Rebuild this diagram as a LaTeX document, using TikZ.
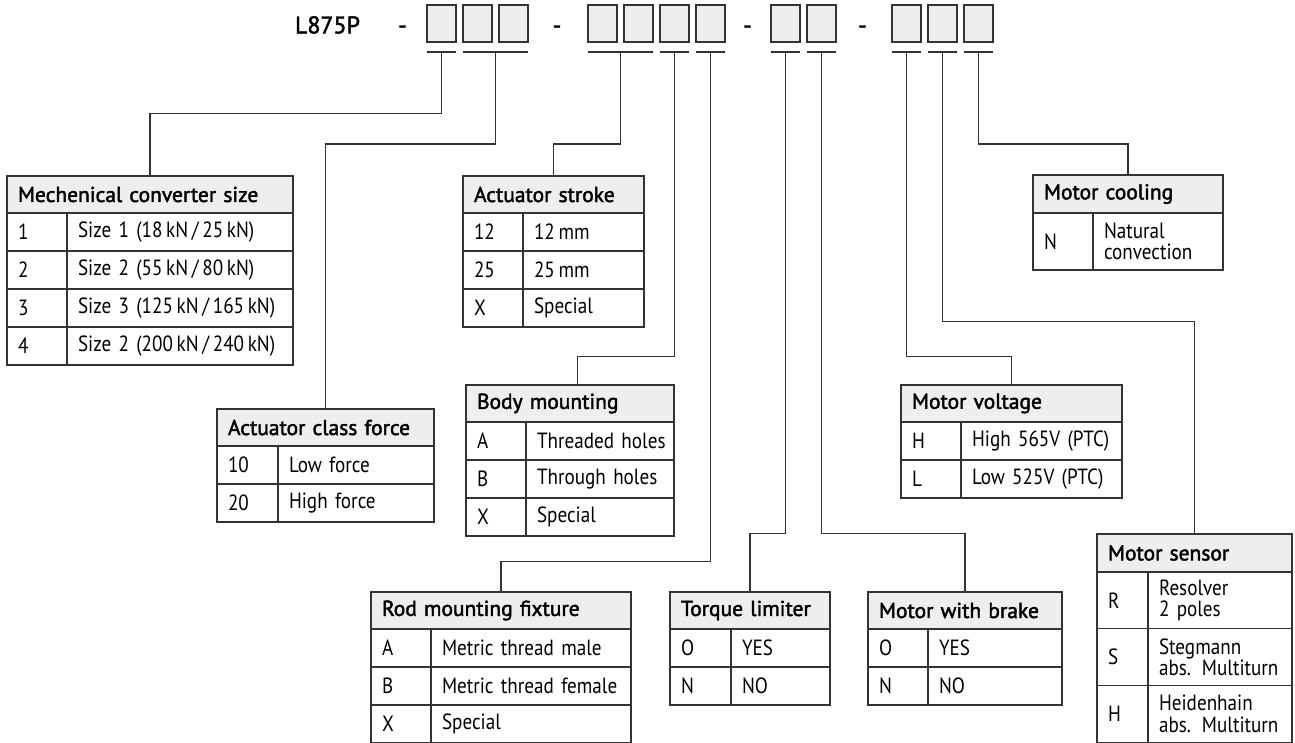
\documentclass[tikz,border=0pt]{standalone}
\usepackage{fontspec}
\setmainfont{PT Sans}
\newfontfamily\bodyfont{PT Sans}[FakeStretch=0.87]
\newfontfamily\medfont{PT Sans}[FakeBold=2]
\usetikzlibrary{positioning,calc}
\definecolor{linegray}{HTML}{333333}
\definecolor{fillgray}{HTML}{EEEEEE}
\begin{document}
\begin{tikzpicture}[
  x=1pt, y=-1pt,
  slot/.style={draw=linegray, fill=fillgray, line width=1.1pt, minimum width=29pt, minimum height=37pt, inner sep=0pt, outer sep=0pt},
  code/.style={anchor=base, inner sep=0pt, font=\medfont\fontsize{24}{26}\selectfont},
  head/.style={draw=linegray, fill=fillgray, line width=1.1pt, anchor=north west, minimum height=37pt, inner xsep=11pt, inner ysep=0pt, outer sep=0pt, align=left, text width=#1, font=\medfont\fontsize{21.5}{23}\selectfont},
  cell/.style={draw=linegray, fill=white, line width=1.1pt, anchor=north west, minimum height=38pt, inner xsep=11pt, inner ysep=0pt, outer sep=0pt, align=left, text width=#1, font=\bodyfont\fontsize{22}{21.5}\selectfont},
  wire/.style={draw=linegray, line width=1.1pt}
]
\fill[white] (0,0) rectangle (1295,742);
\useasboundingbox (0,0) rectangle (1295,742);

% order code
\node[code] (pn) at (327.5,33.3) {L875P};
\node[code] (d1) at (402.5,33.3) {-};
\node[code] (d2) at (557,33.3) {-};
\node[code] (d3) at (747.5,33.3) {-};
\node[code] (d4) at (862.5,33.3) {-};

\node[slot] (s1) at (441.5,23.5) {};
\node[slot, right=7pt of s1] (s2) {};
\node[slot, right=7pt of s2] (s3) {};
\node[slot] (s4) at (602.5,23.5) {};
\node[slot, right=7pt of s4] (s5) {};
\node[slot, right=7pt of s5] (s6) {};
\node[slot, right=7pt of s6] (s7) {};
\node[slot] (s8) at (785.5,23.5) {};
\node[slot, right=7pt of s8] (s9) {};
\node[slot] (s10) at (906.5,23.5) {};
\node[slot, right=7pt of s10] (s11) {};
\node[slot, right=7pt of s11] (s12) {};

% underlines and taps
\foreach \a/\b [count=\i] in {s1/s1, s2/s3, s4/s5, s6/s6, s7/s7, s8/s8, s9/s9, s10/s10, s11/s11, s12/s12} {
  \draw[wire] ($(\a.south west)+(0,10)$) -- ($(\b.south east)+(0,10)$);
  \coordinate (t\i) at ($(\a.south)!0.5!(\b.south)+(0,10)$);
}

% Mechenical converter size
\node[head=264pt] (mcs) at (7,176) {Mechenical converter size};
\foreach \k/\v [count=\i] in {1/{Size 1 (18\,kN\,/\,25\,kN)}, 2/{Size 2 (55\,kN\,/\,80\,kN)}, 3/{Size 3 (125\,kN\,/\,165\,kN)}, 4/{Size 2 (200\,kN\,/\,240\,kN)}} {
  \node[cell=38pt] (mcs-k\i) at ($(mcs.south west)+(0,{(\i-1)*38})$) {\k};
  \node[cell=204pt] (mcs-v\i) at (mcs-k\i.north east) {\mbox{\v}};
}

% Actuator class force
\node[head=195pt] (acf) at (217,409) {Actuator class force};
\foreach \k/\v [count=\i] in {10/Low force, 20/High force} {
  \node[cell=39pt] (acf-k\i) at ($(acf.south west)+(0,{(\i-1)*38})$) {\k};
  \node[cell=134pt] (acf-v\i) at (acf-k\i.north east) {\mbox{\v}};
}

% Actuator stroke
\node[head=159pt] (ast) at (463,176) {Actuator stroke};
\foreach \k/\v [count=\i] in {12/12\,mm, 25/25\,mm, X/Special} {
  \node[cell=38pt] (ast-k\i) at ($(ast.south west)+(0,{(\i-1)*38})$) {\k};
  \node[cell=99pt] (ast-v\i) at (ast-k\i.north east) {\mbox{\v}};
}

% Body mounting
\node[head=186pt] (bmt) at (466,385) {Body mounting};
\foreach \k/\v [count=\i] in {A/Threaded holes, B/Through holes, X/Special} {
  \node[cell=38pt] (bmt-k\i) at ($(bmt.south west)+(0,{(\i-1)*38})$) {\k};
  \node[cell=126pt] (bmt-v\i) at (bmt-k\i.north east) {\mbox{\v}};
}

% Rod mounting fixture
\node[head=238pt] (rmf) at (371,592) {Rod mounting fixture};
\foreach \k/\v [count=\i] in {A/Metric thread male, B/Metric thread female, X/Special} {
  \node[cell=38pt] (rmf-k\i) at ($(rmf.south west)+(0,{(\i-1)*38})$) {\k};
  \node[cell=178pt] (rmf-v\i) at (rmf-k\i.north east) {\mbox{\v}};
}

% Torque limiter
\node[head=138pt] (tql) at (670,592) {Torque limiter};
\foreach \k/\v [count=\i] in {O/YES, N/NO} {
  \node[cell=39pt] (tql-k\i) at ($(tql.south west)+(0,{(\i-1)*38})$) {\k};
  \node[cell=77pt] (tql-v\i) at (tql-k\i.north east) {\mbox{\v}};
}

% Motor with brake
\node[head=172pt] (mwb) at (868,592) {Motor with brake};
\foreach \k/\v [count=\i] in {O/YES, N/NO} {
  \node[cell=38pt] (mwb-k\i) at ($(mwb.south west)+(0,{(\i-1)*38})$) {\k};
  \node[cell=112pt] (mwb-v\i) at (mwb-k\i.north east) {\mbox{\v}};
}

% Motor voltage
\node[head=199pt] (mvt) at (901,385) {Motor voltage};
\foreach \k/\v [count=\i] in {H/High 565V (PTC), L/Low 525V (PTC)} {
  \node[cell=38pt] (mvt-k\i) at ($(mvt.south west)+(0,{(\i-1)*38})$) {\k};
  \node[cell=139pt] (mvt-v\i) at (mvt-k\i.north east) {\mbox{\v}};
}

% Motor sensor
\node[head=173pt, minimum height=38pt] (msn) at (1097,534) {Motor sensor};
\foreach \k/\v [count=\i] in {R/{Resolver\\2 poles}, S/{Stegmann\\abs. Multiturn}, H/{Heidenhain\\abs. Multiturn}} {
  \node[cell=29pt, minimum height=56.7pt] (msn-k\i) at ($(msn.south west)+(0,{(\i-1)*56.7})$) {\k};
  \node[cell=122pt, minimum height=56.7pt] (msn-v\i) at (msn-k\i.north east) {\v};
}

% Motor cooling
\node[head=168pt, minimum height=38pt] (mcl) at (1033,175) {Motor cooling};
\node[cell=38pt, minimum height=57pt] (mcl-k1) at (mcl.south west) {N};
\node[cell=108pt, minimum height=57pt] (mcl-v1) at (mcl-k1.north east) {Natural\\convection};

% connectors
\draw[wire] (t1) -- ++(0,61.3) -| (mcs.north);
\draw[wire] (t2) -- ++(0,92) -| (acf.north);
\draw[wire] (t3) -- ++(0,92) -| (ast.north);
\draw[wire] (t4) -- ++(0,304.7) -| ([xshift=7.5pt]bmt.north);
\draw[wire] (t5) -- ++(0,509.7) -| (rmf.north);
\draw[wire] (t6) -- ++(0,481.3) -| (tql.north);
\draw[wire] (t7) -- ++(0,481.3) -| (mwb.north);
\draw[wire] (t8) -- ++(0,304.7) -| (mvt.north);
\draw[wire] (t9) -- ++(0,269.7) -| (msn.north);
\draw[wire] (t10) -- ++(0,92) -| (mcl.north);
\end{tikzpicture}
\end{document}
